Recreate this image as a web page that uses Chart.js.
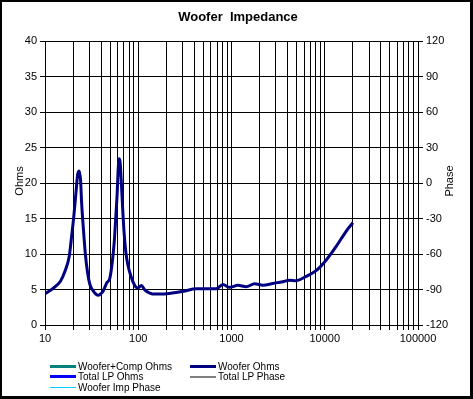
<!DOCTYPE html>
<html>
<head>
<meta charset="utf-8">
<script src="https://cdn.jsdelivr.net/npm/chart.js@4/dist/chart.umd.min.js"></script>
<style>
  html, body { margin:0; padding:0; background:#fff; }
  #wrap { position:relative; width:473px; height:399px; overflow:hidden; background:#fff; font-family:"Liberation Sans", Arial, sans-serif; color:#000; }
  #c { position:absolute; left:0; top:0; }
  #frame { position:absolute; left:0; top:0; width:473px; height:399px; box-sizing:border-box; border-style:solid; border-color:#000; border-width:2px 3px 3px 2px; pointer-events:none; }
  #title { position:absolute; left:2px; width:472px; top:9px; text-align:center; font-weight:bold; font-size:13px; line-height:16px; }
  .ytitle { position:absolute; width:40px; height:12px; text-align:center; font-size:11px; line-height:12px; color:#000; transform:rotate(-90deg); transform-origin:20px 6px; white-space:nowrap; }
  .leg { position:absolute; font-size:10px; line-height:11px; white-space:nowrap; }
  .leg .ln { position:absolute; left:0; width:26px; }
  .leg .tx { position:absolute; left:28px; top:0; }
</style>
</head>
<body>
<div id="wrap">
  <canvas id="c" width="473" height="399"></canvas>
  <div id="title">Woofer&nbsp; Impedance</div>
  <div class="ytitle" id="yt1">Ohms</div>
  <div class="ytitle" id="yt2">Phase</div>
  <div id="legend"></div>
  <div id="frame"></div>
</div>
<script>
// ---- data ----
const freqHz = [10, 10.3, 12.3, 14.7, 16.4, 18.2, 19.3, 20.4, 21.5, 22.4, 23.3, 24.1, 24.7, 25.7, 27.0, 28.6, 30.3, 32.9, 35.5, 37.5, 40.4, 42.1, 45.8, 49.6, 52.6, 55.2, 57.5, 59.5, 60.9, 62.4, 63.9, 65.6, 67.8, 70.5, 73.7, 77.9, 83.3, 90.5, 98.4, 108, 118, 133, 150, 200, 303, 420, 687, 808, 955, 1171, 1437, 1770, 2176, 2777, 3547, 4180, 4942, 6320, 8140, 10440, 13320, 16950, 20000];
const wooferOhms = [4.4, 4.5, 5.2, 6.2, 7.6, 9.7, 12.5, 15.4, 18.7, 21.2, 21.7, 20.3, 17.2, 13.9, 10.2, 7.4, 5.7, 4.8, 4.3, 4.2, 4.5, 4.8, 5.9, 6.6, 8.8, 11.6, 15.3, 18.7, 21.9, 23.4, 22.9, 20.5, 16.8, 13.0, 10.2, 8.3, 6.9, 5.7, 5.2, 5.55, 4.9, 4.5, 4.35, 4.4, 4.75, 5.1, 5.1, 5.7, 5.3, 5.6, 5.4, 5.8, 5.6, 5.85, 6.1, 6.3, 6.25, 6.85, 7.7, 9.2, 11.1, 13.2, 14.4];
const seriesLabels = ["Woofer+Comp Ohms", "Woofer Ohms", "Total LP Ohms", "Total LP Phase", "Woofer Imp Phase"];
const seriesColors = ["#008080", "#000080", "#0000FF", "#808080", "#00CCFF"];
const seriesWidths = [3, 3, 3, 2, 1];
const seriesAxis = ["y", "y", "y", "y1", "y1"];
const xTickLabels = ["10", "100", "1000", "10000", "100000"];
const ohmTicks = [0, 5, 10, 15, 20, 25, 30, 35, 40];
const phaseTicks = [-120, -90, -60, -30, 0, 30, 60, 90, 120];

// minor log grid positions (1..9 per decade)
const xGrid = [];
for (let e = 1; e <= 5; e++) {
  for (let m = 1; m <= 9; m++) {
    const v = m * Math.pow(10, e);
    if (v <= 100000) xGrid.push(v);
  }
}

const datasets = seriesLabels.map((lab, i) => ({
  label: lab,
  data: lab === "Woofer Ohms" ? freqHz.map((f, k) => ({ x: f, y: wooferOhms[k] })) : [],
  borderColor: seriesColors[i],
  backgroundColor: seriesColors[i],
  borderWidth: seriesWidths[i],
  pointRadius: 0,
  tension: 0,
  cubicInterpolationMode: "monotone",
  yAxisID: seriesAxis[i]
}));

const FONT = { family: "'Liberation Sans', Arial, sans-serif", size: 11 };

const chart = new Chart(document.getElementById("c"), {
  type: "line",
  data: { datasets },
  options: {
    responsive: false,
    animation: false,
    devicePixelRatio: 1,
    layout: { padding: { top: 41, left: 0, right: 0, bottom: 0 } },
    plugins: { legend: { display: false }, title: { display: false }, tooltip: { enabled: false } },
    scales: {
      x: {
        type: "logarithmic",
        min: 10, max: 100000,
        afterBuildTicks: (s) => { s.ticks = xGrid.map(v => ({ value: v })); },
        afterFit: (s) => { s.height = 74; },
        ticks: {
          autoSkip: false, maxRotation: 0, color: "#000", font: FONT, padding: 2,
          callback: (v) => {
            const idx = xTickLabels.indexOf(String(v));
            return idx >= 0 ? xTickLabels[idx] : "";
          }
        },
        grid: { color: "#000", lineWidth: 1, tickLength: 5, drawTicks: true },
        border: { color: "#000", width: 1 }
      },
      y: {
        position: "left",
        min: 0, max: 40,
        afterBuildTicks: (s) => { s.ticks = ohmTicks.map(v => ({ value: v })); },
        afterFit: (s) => { s.width = 45; },
        ticks: { color: "#000", font: FONT, padding: 3 },
        grid: { color: "#000", lineWidth: 1, tickLength: 5 },
        border: { color: "#000", width: 1 }
      },
      y1: {
        position: "right",
        display: true,
        min: -120, max: 120,
        afterBuildTicks: (s) => { s.ticks = phaseTicks.map(v => ({ value: v })); },
        afterFit: (s) => { s.width = 55; },
        ticks: { color: "#000", font: FONT, padding: 3 },
        grid: { color: "#000", lineWidth: 1, tickLength: 5, drawOnChartArea: false },
        border: { color: "#000", width: 1 }
      }
    }
  }
});

// axis titles (rotated, reading bottom-to-top)
function placeRot(el, cx, cy) {
  el.style.left = (cx - 20) + "px";
  el.style.top = (cy - 6) + "px";
}
placeRot(document.getElementById("yt1"), 19, 181);
placeRot(document.getElementById("yt2"), 449, 181);

// legend built from the chart's datasets
const legend = document.getElementById("legend");
const rowTops = [361, 371, 382];
chart.data.datasets.forEach((ds, i) => {
  const col = i % 2, row = Math.floor(i / 2);
  const item = document.createElement("div");
  item.className = "leg";
  item.style.left = (50 + col * 140) + "px";
  item.style.top = rowTops[row] + "px";
  const ln = document.createElement("div");
  ln.className = "ln";
  ln.style.background = ds.borderColor;
  ln.style.height = ds.borderWidth + "px";
  ln.style.top = (6 - Math.ceil(ds.borderWidth / 2)) + "px";
  const tx = document.createElement("div");
  tx.className = "tx";
  tx.textContent = ds.label;
  item.appendChild(ln);
  item.appendChild(tx);
  legend.appendChild(item);
});
</script>
</body>
</html>
